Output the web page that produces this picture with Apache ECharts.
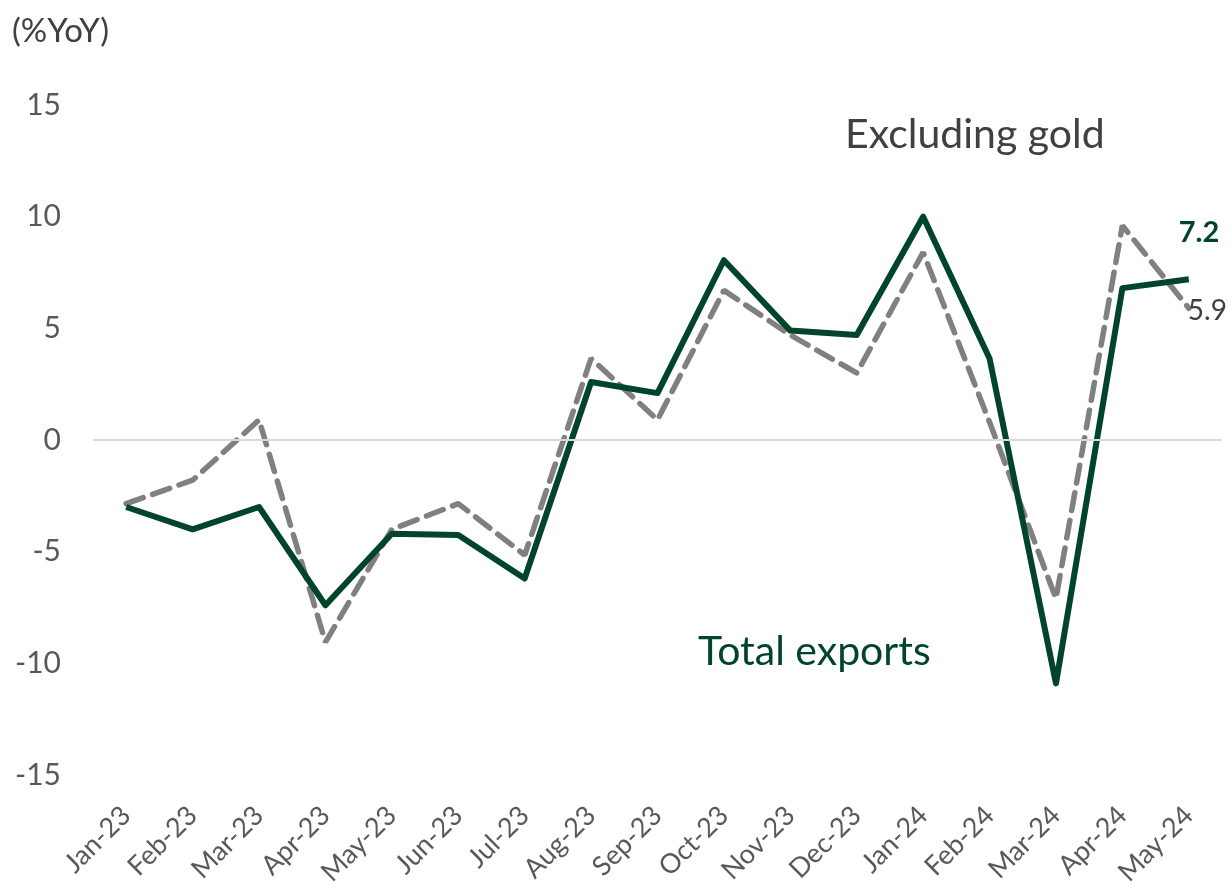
<!DOCTYPE html>
<html>
<head>
<meta charset="utf-8">
<script src="https://cdn.jsdelivr.net/npm/echarts@6/dist/echarts.min.js"></script>
<style>
	html, body { margin: 0; padding: 0; background: #fff; }
	#chart-container { width: 1232px; height: 889px; }
</style>
</head>
<body>
<div id="chart-container"></div>
<script>
var months = ['Jan-23', 'Feb-23', 'Mar-23', 'Apr-23', 'May-23', 'Jun-23', 'Jul-23', 'Aug-23', 'Sep-23',
	'Oct-23', 'Nov-23', 'Dec-23', 'Jan-24', 'Feb-24', 'Mar-24', 'Apr-24', 'May-24'];
var totalExports = [-3.0, -4.0, -3.0, -7.4, -4.2, -4.25, -6.2, 2.6, 2.1, 8.05, 4.9, 4.7, 10.0, 3.65, -10.9, 6.8, 7.2];
var exGold = [-2.85, -1.8, 0.9, -9.05, -4.0, -2.85, -5.15, 3.65, 0.9, 6.7, 4.7, 3.0, 8.4, 0.8, -7.1, 9.6, 5.9];
var yTicks = [-15, -10, -5, 0, 5, 10, 15];

var green = '#00452a';
var grey = '#808080';
var font = 'Lato';

var dom = document.getElementById('chart-container');
var myChart = echarts.init(dom, null, { renderer: 'canvas' });

var option = {
	animation: false,
	textStyle: { fontFamily: font },
	grid: {
		left: 93,
		right: 10,
		top: 105,
		bottom: 114
	},
	xAxis: {
		type: 'category',
		data: months,
		boundaryGap: true,
		axisLine: { show: false },
		axisTick: { show: false },
		axisLabel: {
			rotate: 45,
			margin: 36,
			fontSize: 27,
			color: '#595959',
			fontFamily: font
		}
	},
	yAxis: {
		type: 'value',
		min: yTicks[0],
		max: yTicks[yTicks.length - 1],
		interval: 5,
		splitLine: { show: false },
		axisLine: { show: false },
		axisTick: { show: false },
		axisLabel: {
			margin: 32,
			fontSize: 30,
			color: '#595959',
			fontFamily: font
		}
	},
	graphic: [
		{ type: 'text', left: 12, top: 15, style: { text: '(%YoY)', fontSize: 33, fill: '#404040', fontFamily: font } },
		{ type: 'text', left: 845, top: 114, style: { text: 'Excluding gold', fontSize: 41, fill: '#404040', fontFamily: font } },
		{ type: 'text', left: 698, top: 631, style: { text: 'Total exports', fontSize: 41, fill: green, fontFamily: font } }
	],
	series: [
		{
			name: 'Excluding gold',
			type: 'line',
			data: exGold,
			symbol: 'none',
			z: 2,
			lineStyle: { color: grey, width: 5.5, type: [18, 10], cap: 'round' },
			endLabel: {
				show: true,
				distance: 0,
				offset: [-1, 3],
				fontSize: 28,
				color: '#404040',
				fontFamily: font
			},
			markLine: {
				silent: true,
				symbol: 'none',
				label: { show: false },
				lineStyle: { color: '#d9d9d9', width: 2, type: 'solid' },
				data: [{ yAxis: 0 }]
			}
		},
		{
			name: 'Total exports',
			type: 'line',
			data: totalExports,
			symbol: 'none',
			z: 3,
			lineStyle: { color: green, width: 6, join: 'round' },
			endLabel: {
				show: true,
				distance: 0,
				offset: [-10, -47],
				fontSize: 29,
				fontWeight: 'bold',
				color: green,
				fontFamily: font
			}
		}
	]
};

myChart.setOption(option);
window.addEventListener('resize', myChart.resize);
</script>
</body>
</html>
